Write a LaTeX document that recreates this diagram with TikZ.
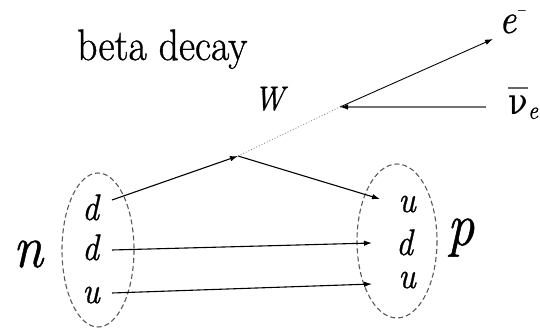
\documentclass[tikz,border=0pt]{standalone}
\usepackage{fontspec}
\setmainfont{Latin Modern Roman}[FakeBold=0.9]
\newfontfamily\grk{DejaVu Serif}
\usetikzlibrary{arrows.meta}
\newcommand\hsq[1]{\scalebox{0.9}[1]{#1}}
\begin{document}
\begin{tikzpicture}[x=1pt,y=-1pt,
  lbl/.style={inner sep=0pt, anchor=base west},
  quark/.style={lbl, font=\itshape\fontsize{37}{37}\selectfont},
  big/.style={lbl, font=\itshape\fontsize{60}{60}\selectfont},
  arr/.style={line width=1.1pt, -{Latex[length=8pt,width=5.5pt]}},
  bag/.style={draw=black!65, dash pattern=on 5pt off 3pt, line width=1.1pt},
]
\useasboundingbox (0,0) rectangle (540,328);

% texts
\node[lbl, font=\fontsize{44}{44}\selectfont] (title) at (77,60) {\hsq{beta decay}};
\node[lbl, font=\itshape\fontsize{42}{42}\selectfont] (em) at (499,33) {\hsq{e\kern2pt\smash{\raisebox{0.42em}{\upshape\fontsize{18}{18}\selectfont –}}}};
\node[lbl, font=\itshape\fontsize{34}{34}\selectfont] (W) at (254,110) {\hsq{W}};
\node[lbl, font=\fontsize{36}{36}\selectfont] (nu) at (508,115) {\hsq{\makebox[0pt][l]{\raisebox{0.72em}{\color{black!60}\rule{0.6em}{0.07em}}}{\grk ν}\textsubscript{\itshape e}}};

\node[big] (n) at (13,267) {\hsq{n}};
\node[big] (p) at (447,245) {\hsq{p}};

\node[quark] (dl1) at (82,220) {\hsq{d}};
\node[quark] (dl2) at (82,260) {\hsq{d}};
\node[quark] (ul3) at (82,303) {\hsq{u}};
\node[quark] (ur1) at (398,212) {\hsq{u}};
\node[quark] (dr2) at (396,255) {\hsq{d}};
\node[quark] (ur3) at (398,288) {\hsq{u}};

% bags
\draw[bag] (98,250) ellipse [x radius=36, y radius=77];
\draw[bag] (397,241) ellipse [x radius=40, y radius=77];

% connector points
\coordinate (v) at (238,156);
\coordinate (j) at (340,107);
\coordinate (nus) at (486,107);
\coordinate (etip) at (493,39);
\coordinate (s1) at (112,200);
\coordinate (s2) at (112,250);
\coordinate (s3) at (112,293);
\coordinate (t1) at (380,199);
\coordinate (t2) at (372,243);
\coordinate (t3) at (372,284);

\draw[arr] (s1) -- (v);
\draw[arr] (v) -- (t1);
\draw[arr] (s2) -- (t2);
\draw[arr] (s3) -- (t3);
\draw[black!45, dotted, line width=0.9pt] (v) -- (j);
\draw[arr, draw=black!55, -{Latex[length=8pt,width=5.5pt,color=black]}] (nus) -- (j);
\draw[arr, line width=0.9pt] (j) -- (etip);
\end{tikzpicture}
\end{document}
